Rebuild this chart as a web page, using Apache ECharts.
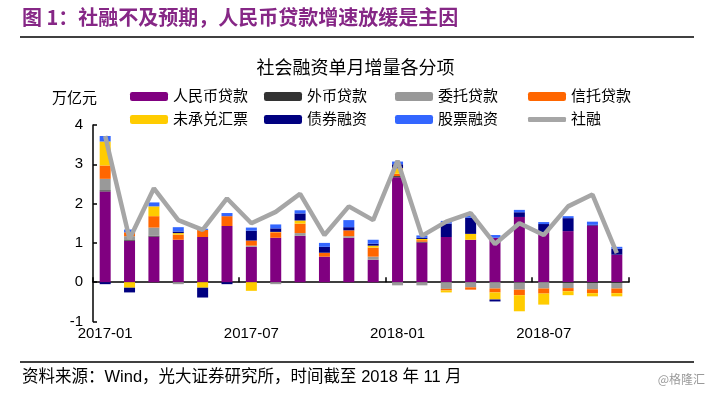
<!DOCTYPE html>
<html><head><meta charset="utf-8">
<script src="https://cdn.jsdelivr.net/npm/echarts@6/dist/echarts.min.js"></script>
<style>html,body{margin:0;padding:0;background:#fff}#c{width:711px;height:393px}</style>
</head><body><div id="c"></div>
<script>
// ---- data (万亿元) ----
const months = ['2017-01','2017-02','2017-03','2017-04','2017-05','2017-06','2017-07','2017-08','2017-09','2017-10','2017-11','2017-12',
                '2018-01','2018-02','2018-03','2018-04','2018-05','2018-06','2018-07','2018-08','2018-09','2018-10'];
const rmbLoans     = [2.31, 1.05, 1.16, 1.08, 1.15, 1.43, 0.90, 1.13, 1.18, 0.65, 1.13, 0.57, 2.67, 1.01, 1.15, 1.08, 1.13, 1.66, 1.27, 1.30, 1.44, 0.70];
const fxLoans      = [0.03, 0.02, 0.02, 0.00, 0.00, 0.00, 0.00, 0.00, 0.00, 0.00, 0.00, 0.00, 0.03, 0.02, 0.00, 0.00, 0.00, -0.01, 0.00, -0.02, -0.02, -0.02];
const entrustLoans = [0.29, 0.10, 0.21, -0.05, 0.00, 0.00, 0.03, -0.05, 0.07, 0.00, 0.04, 0.08, -0.08, -0.08, -0.17, -0.13, -0.16, -0.18, -0.16, -0.13, -0.16, -0.14];
const trustLoans   = [0.34, 0.10, 0.29, 0.13, 0.18, 0.25, 0.13, 0.14, 0.24, 0.10, 0.15, 0.23, 0.06, 0.04, -0.04, -0.06, -0.10, -0.14, -0.13, -0.08, -0.10, -0.12];
const bankBills    = [0.61, -0.14, 0.25, 0.04, -0.14, 0.00, -0.22, 0.01, 0.08, 0.00, 0.00, 0.05, 0.14, 0.03, -0.05, 0.15, -0.18, -0.41, -0.28, -0.10, -0.08, -0.08];
const bonds        = [-0.05, -0.12, 0.00, 0.04, -0.25, -0.05, 0.25, 0.09, 0.18, 0.15, 0.08, 0.05, 0.10, 0.03, 0.34, 0.41, -0.05, 0.12, 0.21, 0.33, 0.02, 0.15];
const equities     = [0.14, 0.07, 0.10, 0.11, 0.03, 0.08, 0.08, 0.10, 0.08, 0.10, 0.18, 0.10, 0.07, 0.06, 0.07, 0.05, 0.07, 0.06, 0.05, 0.05, 0.08, 0.05];
const tsfTotal     = [3.72, 1.10, 2.39, 1.58, 1.33, 2.13, 1.50, 1.79, 2.25, 1.20, 1.93, 1.58, 3.09, 1.18, 1.54, 1.76, 0.97, 1.50, 1.20, 1.93, 2.23, 0.74];
const yTicks = [-1, 0, 1, 2, 3, 4];

const barSeries = [
  ['人民币贷款', rmbLoans, '#800080'],
  ['外币贷款', fxLoans, '#333333'],
  ['委托贷款', entrustLoans, '#999999'],
  ['信托贷款', trustLoans, '#FF6600'],
  ['未承兑汇票', bankBills, '#FFCC00'],
  ['债券融资', bonds, '#000080'],
  ['股票融资', equities, '#3366FF']
];

const FONT = '"Liberation Sans", "Noto Sans CJK SC", sans-serif';
const chart = echarts.init(document.getElementById('c'));

const series = barSeries.map(([name, data, color]) => ({
  name, type: 'bar', stack: 'total', data, barWidth: 11,
  itemStyle: { color }, emphasis: { disabled: true }
}));
series.push({
  name: '社融', type: 'line', data: tsfTotal, symbol: 'none', showSymbol: false,
  lineStyle: { color: '#A6A6A6', width: 4.5 }, itemStyle: { color: '#A6A6A6' }, z: 5
});

const legendPos = [
  ['人民币贷款', 130, 89], ['外币贷款', 264, 89], ['委托贷款', 395, 89], ['信托贷款', 528, 89],
  ['未承兑汇票', 130, 112], ['债券融资', 264, 112], ['股票融资', 395, 112], ['社融', 528, 112]
];
const legends = legendPos.map(([n, l, t]) => {
  const isLine = n === '社融';
  return {
    data: [isLine ? { name: n, icon: 'roundRect' } : n], left: l, top: t,
    itemWidth: 38, itemHeight: isLine ? 5 : 9, itemGap: 0, padding: 0,
    selectedMode: false, textStyle: { fontSize: 15, fontFamily: FONT, color: '#000' }
  };
});

chart.setOption({
  animation: false,
  backgroundColor: '#fff',
  grid: { left: 93, right: 82, top: 125, bottom: 71.5, containLabel: false },
  legend: legends,
  xAxis: [{
    type: 'category', data: months, position: 'bottom',
    axisLine: { show: true, onZero: true, lineStyle: { color: '#000', width: 1.5 } },
    axisTick: { show: true, inside: true, length: 5, interval: 5, lineStyle: { color: '#000', width: 1.5 } },
    axisLabel: { show: false }, splitLine: { show: false }
  }, {
    type: 'category', data: months, position: 'bottom',
    axisLine: { show: false, onZero: false }, axisTick: { show: false },
    axisLabel: { interval: 5, margin: 5, fontSize: 15, fontFamily: FONT, color: '#000' }
  }],
  yAxis: {
    type: 'value', min: yTicks[0], max: yTicks[yTicks.length - 1], interval: 1,
    axisLine: { show: true, lineStyle: { color: '#000', width: 1.5 } },
    axisTick: { show: true, inside: true, length: 4, lineStyle: { color: '#000', width: 1.5 } },
    axisLabel: { fontSize: 15, fontFamily: FONT, color: '#000', margin: 10 },
    splitLine: { show: false }
  },
  series,
  graphic: [
    { type: 'text', left: 22, top: 7, style: { text: '图 1：社融不及预期，人民币贷款增速放缓是主因', fill: '#862786', font: 'bold 20px "Noto Sans CJK SC", sans-serif' } },
    { type: 'line', shape: { x1: 20, y1: 37, x2: 694, y2: 37 }, style: { stroke: '#000', lineWidth: 1.5 } },
    { type: 'text', left: 'center', top: 58, style: { text: '社会融资单月增量各分项', fill: '#000', font: '18px "Noto Sans CJK SC", sans-serif' } },
    { type: 'text', left: 52, top: 90, style: { text: '万亿元', fill: '#000', font: '15px "Noto Sans CJK SC", sans-serif' } },
    { type: 'line', shape: { x1: 20, y1: 362, x2: 694, y2: 362 }, style: { stroke: '#000', lineWidth: 1.5 } },
    { type: 'text', left: 22, top: 369, style: { text: '资料来源：Wind，光大证券研究所，时间截至 2018 年 11 月', fill: '#000', font: '16.5px "Liberation Sans", "Noto Sans CJK SC", sans-serif' } },
    { type: 'text', right: 6, top: 373, style: { text: '@格隆汇', fill: '#9a9a9a', font: '12px "Noto Sans CJK SC", sans-serif' } }
  ]
});
</script></body></html>
